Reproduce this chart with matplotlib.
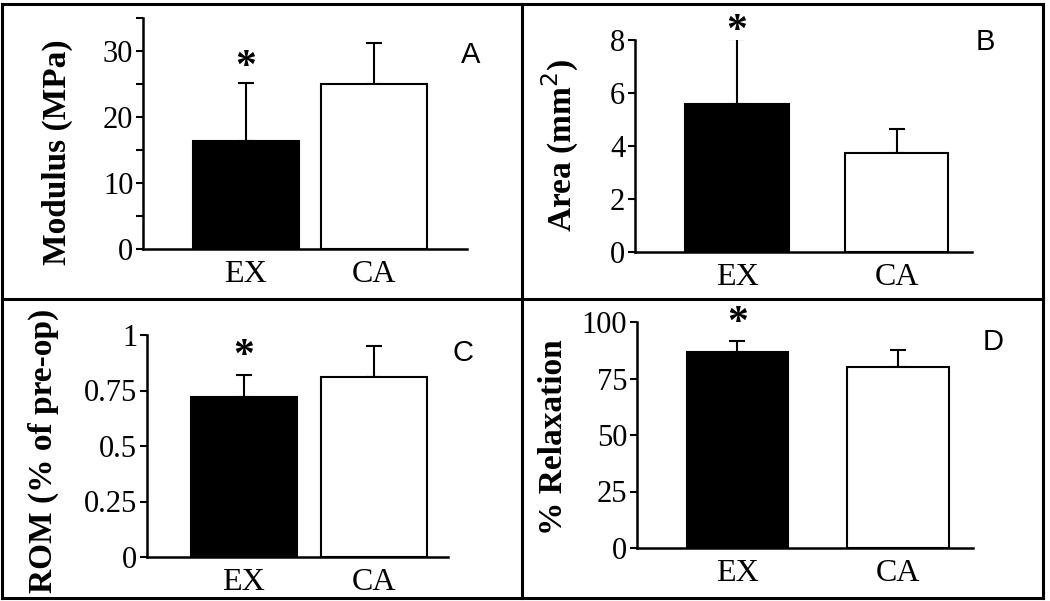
import matplotlib.pyplot as plt
from matplotlib.ticker import MultipleLocator
from matplotlib.lines import Line2D

groups = ['EX', 'CA']

modulus = [16.3, 25.0]
modulus_err = [8.8, 6.1]

area = [5.58, 3.73]
area_err = [2.44, 0.90]

rom = [0.72, 0.81]
rom_err = [0.10, 0.14]

relax = [86.9, 80.2]
relax_err = [4.8, 7.4]

star_y = [27.4, 8.3, 0.90, 99]

SERIF = 'Liberation Serif'
SANS = 'Liberation Sans'

W, H = 1050, 601
fig = plt.figure(figsize=(W / 100, H / 100), dpi=100)


def px_axes(l, r, b, t):
    return fig.add_axes([l / W, 1 - b / H, (r - l) / W, (b - t) / H])


def panel(ax, vals, errs, ylim, major, minor, xlim, bw, ylabel, lab_xy, letter,
          let_xy, star, ticklabels=None):
    x = range(len(vals))
    ax.bar(x, vals, width=bw, color=['black', 'white'], edgecolor='black',
           linewidth=1.5, zorder=2)
    ax.errorbar(x, vals, yerr=[[0, 0], errs], fmt='none', ecolor='black',
                elinewidth=1.5, capsize=6, capthick=1.5, zorder=1)
    ax.set_xlim(*xlim)
    ax.set_ylim(*ylim)
    ax.yaxis.set_major_locator(MultipleLocator(major))
    if minor:
        ax.yaxis.set_minor_locator(MultipleLocator(minor))
        ax.tick_params(axis='y', which='minor', length=5, width=1.5)
    if ticklabels is not None:
        ax.set_yticks(ticklabels[0])
        ax.set_yticklabels(ticklabels[1])
    ax.set_xticks(list(x))
    ax.set_xticklabels(groups, fontfamily=SERIF, fontsize=23)
    ax.tick_params(axis='x', length=0, pad=8)
    ax.tick_params(axis='y', length=5, width=1.5, pad=2, labelsize=22)
    for lbl in ax.get_yticklabels():
        lbl.set_fontfamily(SERIF)
    for s in ['top', 'right']:
        ax.spines[s].set_visible(False)
    for s in ['left', 'bottom']:
        ax.spines[s].set_linewidth(1.8)
    ax.text(lab_xy[0], lab_xy[1], ylabel, transform=ax.transAxes, rotation=90,
            ha='center', va='center', fontfamily=SERIF, fontweight='bold',
            fontsize=24, clip_on=False)
    ax.text(let_xy[0], let_xy[1], letter, transform=ax.transAxes, ha='center',
            va='center', fontfamily=SANS, fontsize=21)
    ax.text(0, star, '*', ha='center', va='center', fontfamily=SERIF,
            fontweight='bold', fontsize=30, clip_on=False)


axA = px_axes(143, 467, 249, 17.6)
panel(axA, modulus, modulus_err, (0, 35), 10, 5, (-0.80, 1.72), 0.825,
      'Modulus (MPa)', (-0.265, 0.42), 'A', (1.01, 0.84), star_y[0])

axB = px_axes(635, 972, 252, 40)
panel(axB, area, area_err, (0, 8), 2, None, (-0.64, 1.473), 0.65,
      'Area (mm$^2$)', (-0.22, 0.505), 'B', (1.04, 0.99), star_y[1])

axC = px_axes(147, 448, 557, 335)
panel(axC, rom, rom_err, (0, 1), 0.25, None, (-0.345, 1.569), 0.815,
      'ROM (% of pre-op)', (-0.345, 0.48), 'C', (1.05, 0.92), star_y[2],
      ticklabels=([0, 0.25, 0.5, 0.75, 1], ['0', '0.25', '0.5', '0.75', '1']))
axC.set_xlim(-0.746, 1.569)

axD = px_axes(637, 973, 548, 322)
panel(axD, relax, relax_err, (0, 100), 25, None, (-0.626, 1.467), 0.63,
      '% Relaxation', (-0.25, 0.49), 'D', (1.06, 0.91), star_y[3])

# panel frames
frame = [((2, 1043), (4, 4)), ((2, 1043), (598, 598)), ((2, 2), (4, 598)),
         ((1043, 1043), (4, 598)), ((522, 522), (4, 598)), ((2, 1043), (299, 299))]
for xs, ys in frame:
    fig.add_artist(Line2D([v / W for v in xs], [1 - v / H for v in ys],
                          color='black', linewidth=2.2))

fig.savefig('out.png', dpi=100)
